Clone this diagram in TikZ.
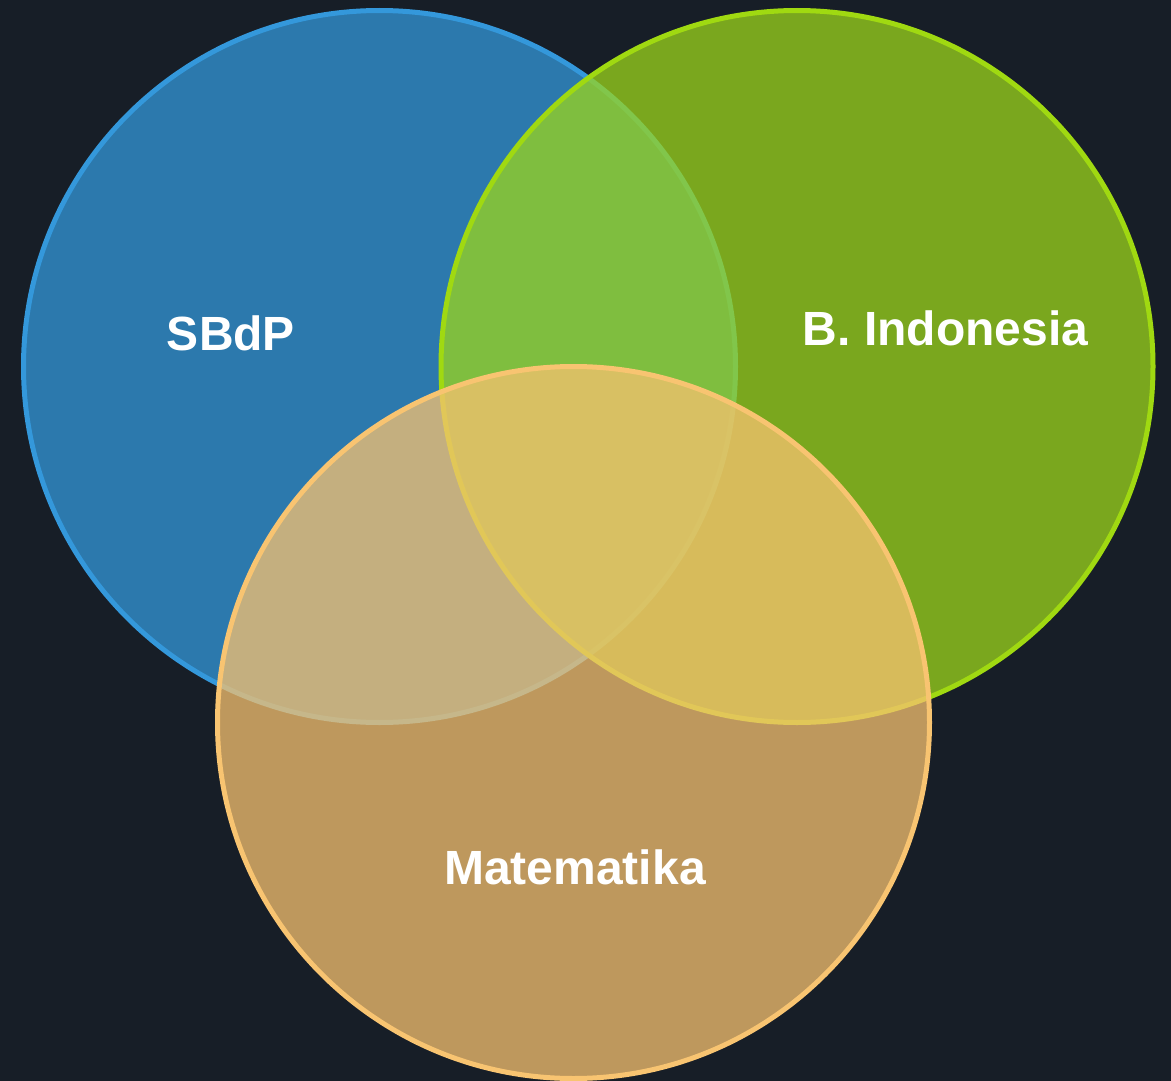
\documentclass[tikz,border=0pt]{standalone}
\usepackage{fontspec}
\setmainfont{Liberation Sans}
\definecolor{bg}{HTML}{171E27}
\definecolor{cblue}{HTML}{3498DB}
\definecolor{cgreen}{HTML}{9CD61B}
\definecolor{cgreenline}{HTML}{A0D911}
\definecolor{corange}{HTML}{F7C270}
\definecolor{corangeline}{HTML}{F8C471}
\begin{document}
\begin{tikzpicture}[x=1pt,y=-1pt,
  setcircle/.style={circle, minimum size=712pt, inner sep=0pt, line width=5pt, fill opacity=0.75},
  setlabel/.style={text=white, font=\fontsize{48}{58}\selectfont\bfseries, anchor=base, inner sep=0pt}]
\fill[bg] (0,0) rectangle (1171,1081);
\useasboundingbox (0,0) rectangle (1171,1081);
\node[setcircle, fill=cblue, draw=cblue] (sbdp) at (379.5,366.5) {};
\node[setcircle, fill=cgreen, draw=cgreenline] (bind) at (797,366.5) {};
\node[setcircle, fill=corange, draw=corangeline] (mat) at (573.5,722.5) {};
\node[setlabel] (tsbdp) at (231,350.5) {SBdP};
\node[setlabel] (tbind) at (945.5,345) {B. Indonesia};
\node[setlabel] (tmat) at (575,884) {Matematika};
\end{tikzpicture}
\end{document}
